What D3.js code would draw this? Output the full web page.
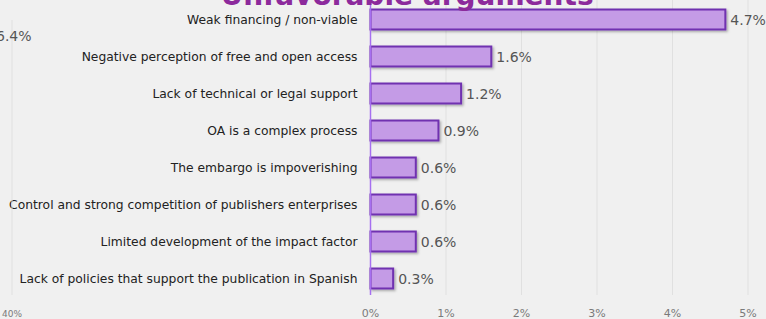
<!DOCTYPE html>
<html>
<head>
<meta charset="utf-8">
<script src="https://cdn.jsdelivr.net/npm/d3@7"></script>
<style>
  html, body { margin: 0; padding: 0; background: #f0f0f0; }
  svg { display: block; }
</style>
</head>
<body>
<svg id="chart"></svg>
<script>
const categories = [
    "Weak financing / non-viable",
    "Negative perception of free and open access",
    "Lack of technical or legal support",
    "OA is a complex process",
    "The embargo is impoverishing",
    "Control and strong competition of publishers enterprises",
    "Limited development of the impact factor",
    "Lack of policies that support the publication in Spanish"
]
const values = [4.7, 1.6, 1.2, 0.9, 0.6, 0.6, 0.6, 0.3]
const xTicks = [0, 1, 2, 3, 4, 5]
const title = "Unfavorable arguments"

// fragment of the neighbouring panel, cut by the crop
const leftPanelValue = "6.4%"
const leftPanelTick = "40%"

const width = 766, height = 319
const margin = { top: 1, right: 18, bottom: 22, left: 370.5 }

const svg = d3.select('#chart')
    .attr('width', width)
    .attr('height', height)
    .attr('font-family', 'DejaVu Sans, Verdana, sans-serif')

// drop shadow for bars
const defs = svg.append('defs')
const f = defs.append('filter').attr('id', 'shadow')
    .attr('x', '-10%').attr('y', '-20%').attr('width', '130%').attr('height', '160%')
f.append('feDropShadow')
    .attr('dx', 1.5).attr('dy', 1.5).attr('stdDeviation', 1)
    .attr('flood-color', '#000').attr('flood-opacity', 0.3)

const x = d3.scaleLinear()
    .domain([0, 5])
    .range([margin.left, margin.left + 5 * 75.5])

const y = d3.scaleBand()
    .domain(categories)
    .range([margin.top, height - margin.bottom])
    .paddingInner(0.46)
    .paddingOuter(0.23)

// gridlines
svg.append('g')
    .selectAll('line')
    .data(xTicks.slice(1))
    .join('line')
    .attr('x1', d => x(d)).attr('x2', d => x(d))
    .attr('y1', 0).attr('y2', height - margin.bottom - 2)
    .attr('stroke', '#e0e0e0')
    .attr('stroke-width', 1)

// x tick labels
svg.append('g')
    .selectAll('text')
    .data(xTicks)
    .join('text')
    .attr('x', d => x(d))
    .attr('y', 317)
    .attr('text-anchor', 'middle')
    .attr('font-size', 11)
    .attr('fill', '#7a7a7a')
    .text(d => d + '%')

// bars
svg.append('g')
    .selectAll('rect')
    .data(values)
    .join('rect')
    .attr('x', x(0))
    .attr('y', (d, i) => y(categories[i]))
    .attr('width', d => x(d) - x(0))
    .attr('height', y.bandwidth())
    .attr('fill', '#c49be6')
    .attr('stroke', '#7030b0')
    .attr('stroke-width', 2)
    .attr('filter', 'url(#shadow)')

// value axis line
svg.append('line')
    .attr('x1', x(0)).attr('x2', x(0))
    .attr('y1', 0).attr('y2', height - margin.bottom - 2)
    .attr('stroke', '#a66ff0')
    .attr('stroke-width', 1.5)

// value labels
svg.append('g')
    .selectAll('text')
    .data(values)
    .join('text')
    .attr('x', d => x(d) + 5)
    .attr('y', (d, i) => y(categories[i]) + y.bandwidth() / 2)
    .attr('dy', '0.36em')
    .attr('font-size', 14)
    .attr('fill', '#555')
    .text(d => d.toFixed(1) + '%')

// category labels
svg.append('g')
    .selectAll('text')
    .data(categories)
    .join('text')
    .attr('x', margin.left - 13)
    .attr('y', d => y(d) + y.bandwidth() / 2)
    .attr('dy', '0.36em')
    .attr('text-anchor', 'end')
    .attr('font-size', 12.3)
    .attr('fill', '#222')
    .text(d => d)

// title, mostly cut off at the top
svg.append('text')
    .attr('x', 407)
    .attr('y', 5)
    .attr('text-anchor', 'middle')
    .attr('font-size', 28)
    .attr('font-weight', 'bold')
    .attr('fill', '#8c2a9c')
    .text(title)

// neighbouring panel fragment
svg.append('line')
    .attr('x1', 12).attr('x2', 12)
    .attr('y1', 20).attr('y2', height - margin.bottom - 2)
    .attr('stroke', '#e0e0e0')
svg.append('text')
    .attr('x', -4).attr('y', 41)
    .attr('font-size', 14)
    .attr('fill', '#555')
    .text(leftPanelValue)
svg.append('text')
    .attr('x', 12).attr('y', 317)
    .attr('text-anchor', 'middle')
    .attr('font-size', 9)
    .attr('fill', '#7a7a7a')
    .text(leftPanelTick)
</script>
</body>
</html>
